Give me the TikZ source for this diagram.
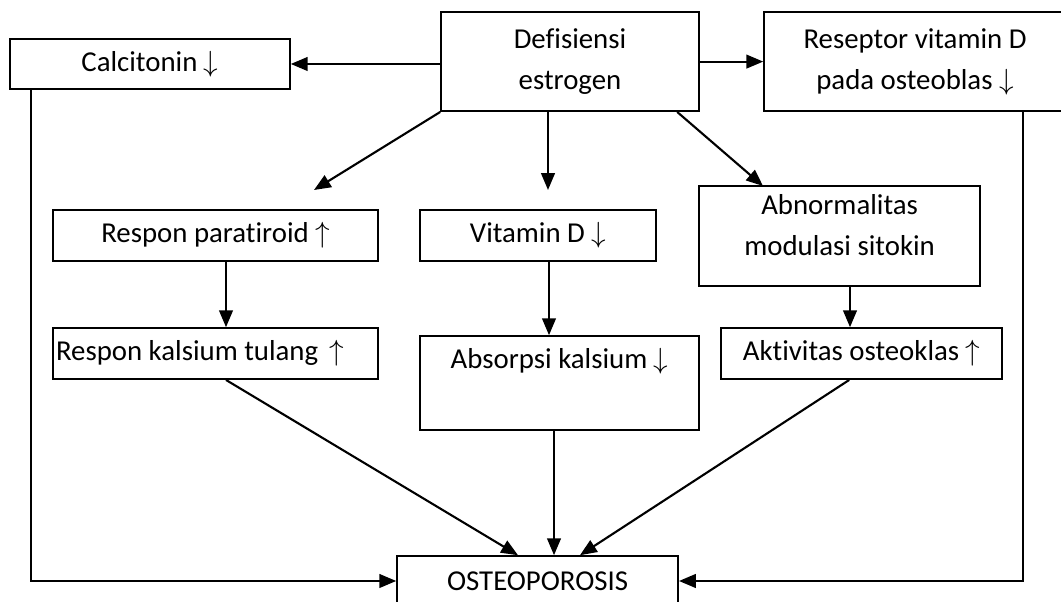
\documentclass[tikz,border=0pt]{standalone}
\usepackage{fontspec}
\setmainfont{Carlito}[Ligatures=NoCommon]
\usepackage{tikz}
\usetikzlibrary{arrows.meta, positioning, calc}

\begin{document}
\begin{tikzpicture}[
        block/.style={rectangle, draw=black, line width=1.1pt, fill=white, font=\fontsize{20.5}{29}\selectfont, inner xsep=2pt, inner ysep=1pt, align=center},
        arr/.style={-{Triangle[length=0.42cm, width=0.34cm]}, line width=1.5pt}
    ]
        \clip (0,0) rectangle (26.525,15.05);

        % Top row
        \node[block, minimum width=7.0cm, minimum height=1.25cm] (calc) at (3.75, 13.45) {Calcitonin $\downarrow$};
        \node[block, minimum width=6.45cm, minimum height=2.48cm] (defi) at (14.25, 13.51) {Defisiensi\\estrogen};
        \node[block, minimum width=7.55cm, minimum height=2.48cm] (resep) at (22.875, 13.51) {Reseptor vitamin D\\pada osteoblas $\downarrow$};

        % Middle row
        \node[block, minimum width=8.13cm, minimum height=1.28cm] (para) at (5.39, 9.16) {Respon paratiroid $\uparrow$};
        \node[block, minimum width=5.9cm, minimum height=1.28cm] (vitd) at (13.45, 9.16) {Vitamin D $\downarrow$};
        \node[block, minimum width=7.03cm, minimum height=2.5cm, text depth=0.56cm] (abn) at (20.99, 9.15) {Abnormalitas\\modulasi sitokin};

        % Lower row
        \node[block, minimum width=8.13cm, minimum height=1.28cm, text width=7.98cm, align=flush left] (kals) at (5.39, 6.21) {Respon kalsium tulang \,$\uparrow$};
        \node[block, minimum width=6.98cm, minimum height=2.35cm, inner ysep=0pt, text height=0.8cm, text depth=1.52cm] (abs) at (13.99, 5.475) {Absorpsi kalsium $\downarrow$};
        \node[block, minimum width=7.03cm, minimum height=1.28cm] (akt) at (21.54, 6.21) {Aktivitas osteoklas $\uparrow$};

        \node[block, minimum width=7.03cm, minimum height=1.25cm] (osteo) at (13.44, 0.525) {OSTEOPOROSIS};

        % Free arrow ends
        \coordinate (p1) at (7.85, 10.3);
        \coordinate (p2) at (13.7, 10.3);
        \coordinate (p3) at (19.075, 10.4);

        % Arrows from Defisiensi estrogen
        \draw[arr] (defi.west |- calc.east) -- (calc.east);
        \draw[arr] (defi.east) -- (resep.west);
        \draw[arr] (defi.south west) -- (p1);
        \draw[arr] (defi.south -| p2) -- (p2);
        \draw[arr] ([xshift=2.68cm]defi.south) -- (p3);

        % Down the columns
        \draw[arr] ([xshift=0.26cm]para.south) -- ([xshift=0.26cm]kals.north);
        \draw[arr] ([xshift=0.275cm]vitd.south) -- ([xshift=0.275cm]vitd.south |- abs.north);
        \draw[arr] ([xshift=0.26cm]abn.south) -- ([xshift=0.26cm]abn.south |- akt.north);

        % Into OSTEOPOROSIS
        \draw[arr] ([xshift=0.26cm]kals.south) -- ([xshift=-0.49cm]osteo.north);
        \draw[arr] ([xshift=-0.14cm]abs.south) -- ([xshift=-0.14cm]abs.south |- osteo.north);
        \draw[arr] ([xshift=-0.31cm]akt.south) -- ([xshift=1.06cm]osteo.north);
        \draw[arr] ([xshift=0.55cm]calc.south west) |- (osteo.west);
        \draw[arr] ([xshift=2.7cm]resep.south) |- (osteo.east);
    \end{tikzpicture}
\end{document}
